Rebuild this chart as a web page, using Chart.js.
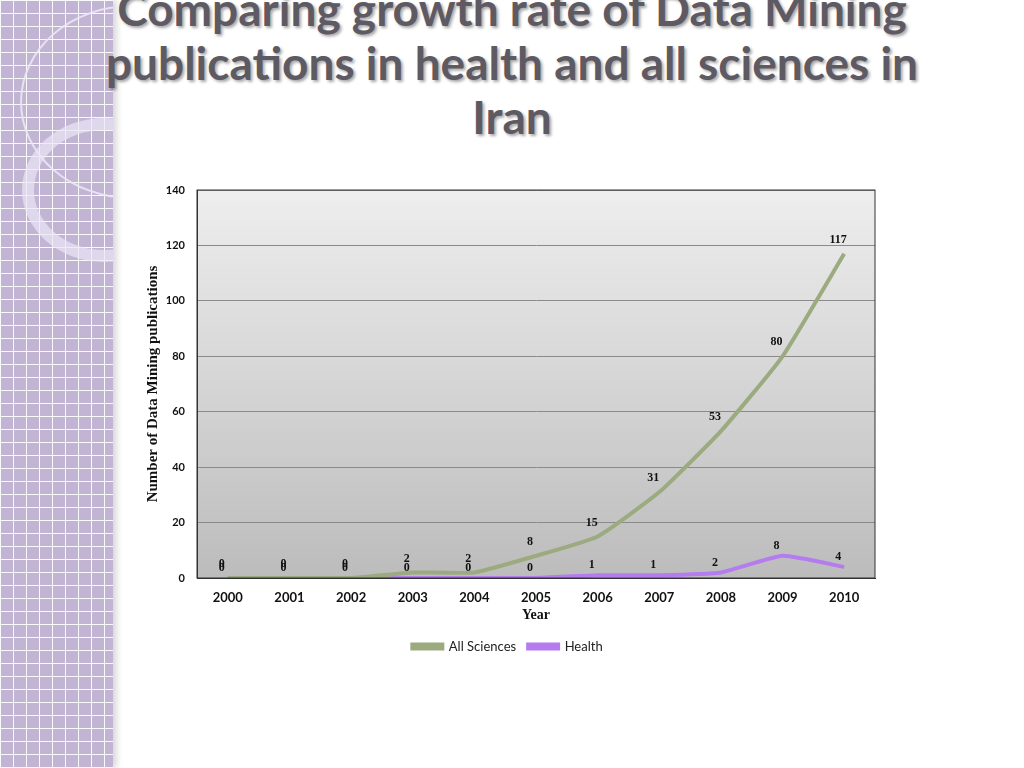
<!DOCTYPE html>
<html>
<head>
<meta charset="utf-8">
<script src="https://cdn.jsdelivr.net/npm/chart.js@4"></script>
<style>
  body { margin: 0; width: 1024px; height: 768px; overflow: hidden; background: #fff; position: relative; font-family: Lato, sans-serif; }
  #strip {
    position: absolute; left: 0; top: 0; width: 113px; height: 768px; overflow: hidden;
    background-color: #c2b5d3;
    background-image:
      linear-gradient(to right, rgba(255,255,255,0.9) 1px, transparent 1px),
      linear-gradient(to bottom, rgba(255,255,255,0.9) 1px, transparent 1px);
    background-size: 13px 13px;
    box-shadow: 4px 0 6px rgba(0,0,0,0.15);
  }
  .ring { position: absolute; border-radius: 50%; }
  #title {
    position: absolute; left: 40px; width: 944px; top: -18px; text-align: center;
    font-size: 46px; font-weight: bold; line-height: 54px; color: #5e5a63;
    text-shadow: 2px 2px 3px rgba(0,0,0,0.35);
  }
  canvas { position: absolute; left: 0; top: 0; }
</style>
</head>
<body>
<div id="strip">
  <div class="ring" style="left:20px;top:5px;width:220px;height:190px;border:2px solid rgba(235,230,245,0.9);"></div>
  <div class="ring" style="left:22px;top:118px;width:140px;height:120px;border:12px solid rgba(235,230,245,0.7);"></div>
</div>
<div id="title">Comparing growth rate of Data Mining<br>publications in health and all sciences in<br>Iran</div>
<canvas id="chart" width="1024" height="768"></canvas>
<script>
const years = ["2000","2001","2002","2003","2004","2005","2006","2007","2008","2009","2010"];
const allSciences = [0, 0, 0, 2, 2, 8, 15, 31, 53, 80, 117];
const health = [0, 0, 0, 0, 0, 0, 1, 1, 2, 8, 4];
const yTicks = [0, 20, 40, 60, 80, 100, 120, 140];

const plotBg = {
  id: "plotBg",
  beforeDraw(chart) {
    const { ctx, chartArea: a } = chart;
    const g = ctx.createLinearGradient(0, a.top, 0, a.bottom);
    g.addColorStop(0, "#eeeeee");
    g.addColorStop(1, "#bcbcbc");
    ctx.save();
    ctx.fillStyle = g;
    ctx.fillRect(a.left, a.top, a.right - a.left, a.bottom - a.top);
    ctx.restore();
  },
  afterDraw(chart) {
    const { ctx, chartArea: a } = chart;
    ctx.save();
    ctx.strokeStyle = "#333";
    ctx.lineWidth = 1;
    ctx.strokeRect(a.left, a.top, a.right - a.left, a.bottom - a.top);
    ctx.restore();
  }
};

const valueLabels = {
  id: "valueLabels",
  afterDatasetsDraw(chart) {
    const ctx = chart.ctx;
    ctx.save();
    ctx.font = "bold 12px 'Liberation Serif', serif";
    ctx.fillStyle = "#111";
    ctx.textAlign = "center";
    ctx.textBaseline = "bottom";
    chart.data.datasets.forEach((ds, i) => {
      chart.getDatasetMeta(i).data.forEach((pt, j) => {
        const dy = i === 0 ? 8 : 4;
        ctx.fillText(ds.data[j], pt.x - 6, pt.y - dy);
      });
    });
    ctx.restore();
  }
};

new Chart(document.getElementById("chart"), {
  type: "line",
  data: {
    labels: years,
    datasets: [
      { label: "All Sciences", data: allSciences, borderColor: "#9bab7f", backgroundColor: "#9bab7f", borderWidth: 4, pointRadius: 0, tension: 0.15 },
      { label: "Health", data: health, borderColor: "#b57cf0", backgroundColor: "#b57cf0", borderWidth: 4, pointRadius: 0, tension: 0.15 }
    ]
  },
  options: {
    responsive: false,
    animation: false,
    layout: { padding: { left: 140, right: 149, top: 190, bottom: 105 } },
    plugins: {
      legend: {
        position: "bottom",
        labels: { boxWidth: 30, boxHeight: 4, color: "#222", font: { family: "Lato", size: 13 }, padding: 12 }
      },
      tooltip: { enabled: false }
    },
    scales: {
      x: {
        offset: true,
        grid: { display: false },
        border: { color: "#333" },
        ticks: { color: "#111", font: { family: "Lato", weight: "bold", size: 13 }, padding: 4 },
        title: { display: true, text: "Year", color: "#111", font: { family: "'Liberation Serif', serif", weight: "bold", size: 14 }, padding: { top: 4 } },
        afterFit(s) { s.height = 50; }
      },
      y: {
        min: 0, max: 140,
        afterBuildTicks(s) { s.ticks = yTicks.map(v => ({ value: v })); },
        grid: { color: "#8a8a8a", drawTicks: false },
        border: { color: "#333" },
        ticks: { color: "#111", font: { family: "Lato", weight: "bold", size: 11 }, padding: 12 },
        title: { display: true, text: "Number of Data Mining publications", color: "#111", font: { family: "'Liberation Serif', serif", weight: "bold", size: 15 } },
        afterFit(s) { s.width = 57; }
      }
    }
  },
  plugins: [plotBg, valueLabels]
});
</script>
</body>
</html>
